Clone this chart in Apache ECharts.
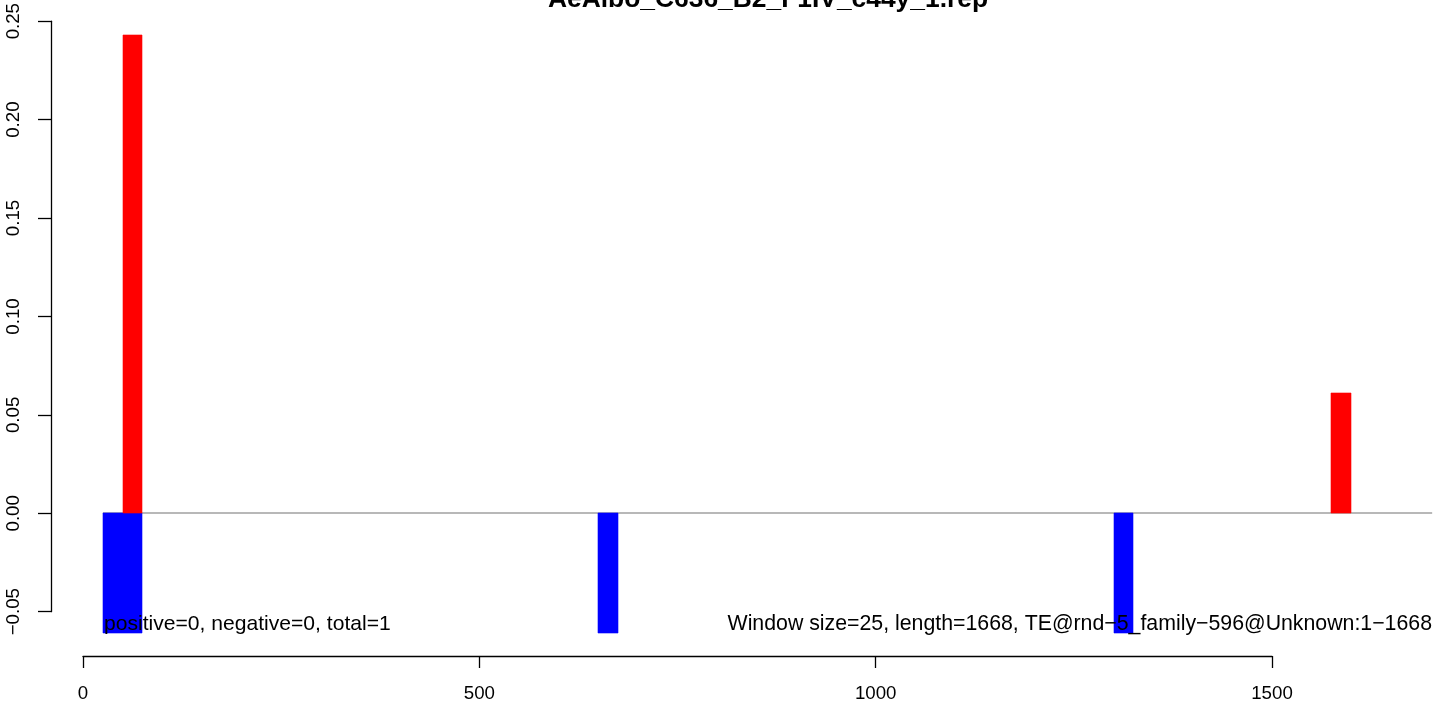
<!DOCTYPE html>
<html><head><meta charset="utf-8">
<script src="https://cdn.jsdelivr.net/npm/echarts@6/dist/echarts.min.js"></script>
<style>html,body{margin:0;padding:0;background:#fff}#c{width:1435px;height:707px}</style>
</head><body><div id="c"></div>
<script>
// ---- data ----
const titleText = 'AeAlbo_C636_B2_F1IV_c44y_1.rep';
const leftNote = 'positive=0, negative=0, total=1';
const rightNote = 'Window size=25, length=1668, TE@rnd\u22125_family\u2212596@Unknown:1\u22121668';
const posStart = [50, 1575];
const posEnd = [75, 1600];
const posValues = [0.2424, 0.0608];
const negStart = [25, 50, 650, 1300];
const negEnd = [50, 75, 675, 1325];
const negValues = [-0.0607, -0.0607, -0.0607, -0.0607];
const zeroLineX = [25, 1702];
const xTickMin = 0, xTickMax = 1500, xTickStep = 500;
const yTickMin = -0.05, yTickMax = 0.25, yTickStep = 0.05;

// ---- build ----
const FONT = "'Liberation Sans', Arial, Helvetica, sans-serif";
const posData = posStart.map((s, i) => [s, posEnd[i], posValues[i]]);
const negData = negStart.map((s, i) => [s, negEnd[i], negValues[i]]);
const zeroData = zeroLineX.map(x => [x, 0]);

function renderBar(params, api) {
  const x0 = api.value(0), x1 = api.value(1), v = api.value(2);
  const p0 = api.coord([x0, 0]);
  const p1 = api.coord([x1, v]);
  const xa = Math.round(p0[0]), xb = Math.round(p1[0]);
  const ya = Math.round(Math.min(p0[1], p1[1])), yb = Math.round(Math.max(p0[1], p1[1]));
  return {
    type: 'rect',
    shape: { x: xa, y: ya, width: xb - xa, height: yb - ya },
    style: { fill: api.visual('color'), stroke: api.visual('color'), lineWidth: 0.6 }
  };
}

const chart = echarts.init(document.getElementById('c'), null, { renderer: 'canvas' });
const option = {
  animation: false,
  backgroundColor: '#ffffff',
  grid: [
    { left: 51, right: 3, top: 11, height: 645 },            // plot region
    { left: 83, width: 1189, top: 11, height: 645 },          // x axis 0..1500
    { left: 51, right: 3, top: 19.5, height: 592.2 }          // y axis -0.05..0.25
  ],
  xAxis: [
    { type: 'value', gridIndex: 0, min: -40.4, max: 1701.8, show: false },
    { type: 'value', gridIndex: 1, min: xTickMin, max: xTickMax, interval: xTickStep,
      axisLine: { show: true, lineStyle: { color: '#000', width: 1.3 } },
      axisTick: { show: true, length: 12, lineStyle: { color: '#000', width: 1.3 } },
      axisLabel: { color: '#000', fontSize: 18.7, fontFamily: FONT, margin: 28,
        formatter: v => String(v) },
      splitLine: { show: false } },
    { type: 'value', gridIndex: 2, show: false }
  ],
  yAxis: [
    { type: 'value', gridIndex: 0, min: -0.0725, max: 0.2544, show: false },
    { type: 'value', gridIndex: 1, show: false },
    { type: 'value', gridIndex: 2, min: yTickMin, max: yTickMax, interval: yTickStep,
      axisLine: { show: true, lineStyle: { color: '#000', width: 1.3 } },
      axisTick: { show: true, length: 13, lineStyle: { color: '#000', width: 1.3 } },
      axisLabel: { color: '#000', fontSize: 18.7, fontFamily: FONT, rotate: 90, margin: 28,
        formatter: v => v.toFixed(2).replace('-', '\u2212') },
      splitLine: { show: false } }
  ],
  series: [
    { type: 'line', xAxisIndex: 0, yAxisIndex: 0, data: zeroData, symbol: 'none',
      lineStyle: { color: '#a0a0a0', width: 1.6 }, z: 1 },
    { type: 'custom', xAxisIndex: 0, yAxisIndex: 0, data: negData, renderItem: renderBar,
      itemStyle: { color: '#0000ff' }, encode: { x: [0, 1], y: 2 }, z: 2 },
    { type: 'custom', xAxisIndex: 0, yAxisIndex: 0, data: posData, renderItem: renderBar,
      itemStyle: { color: '#ff0000' }, encode: { x: [0, 1], y: 2 }, z: 2 }
  ],
  graphic: [
    { type: 'text', x: 768, y: 0, z: 10,
      style: { text: titleText, font: 'bold 26.4px ' + FONT, fill: '#000', textAlign: 'center', textVerticalAlign: 'middle' } },
    { type: 'text', x: 104, y: 624.6, z: 10,
      style: { text: leftNote, font: '21.1px ' + FONT, fill: '#000', textAlign: 'left', textVerticalAlign: 'middle' } },
    { type: 'text', x: 1432, y: 624.6, z: 10,
      style: { text: rightNote, font: '21.3px ' + FONT, fill: '#000', textAlign: 'right', textVerticalAlign: 'middle' } }
  ]
};
chart.setOption(option);
</script>
</body></html>
